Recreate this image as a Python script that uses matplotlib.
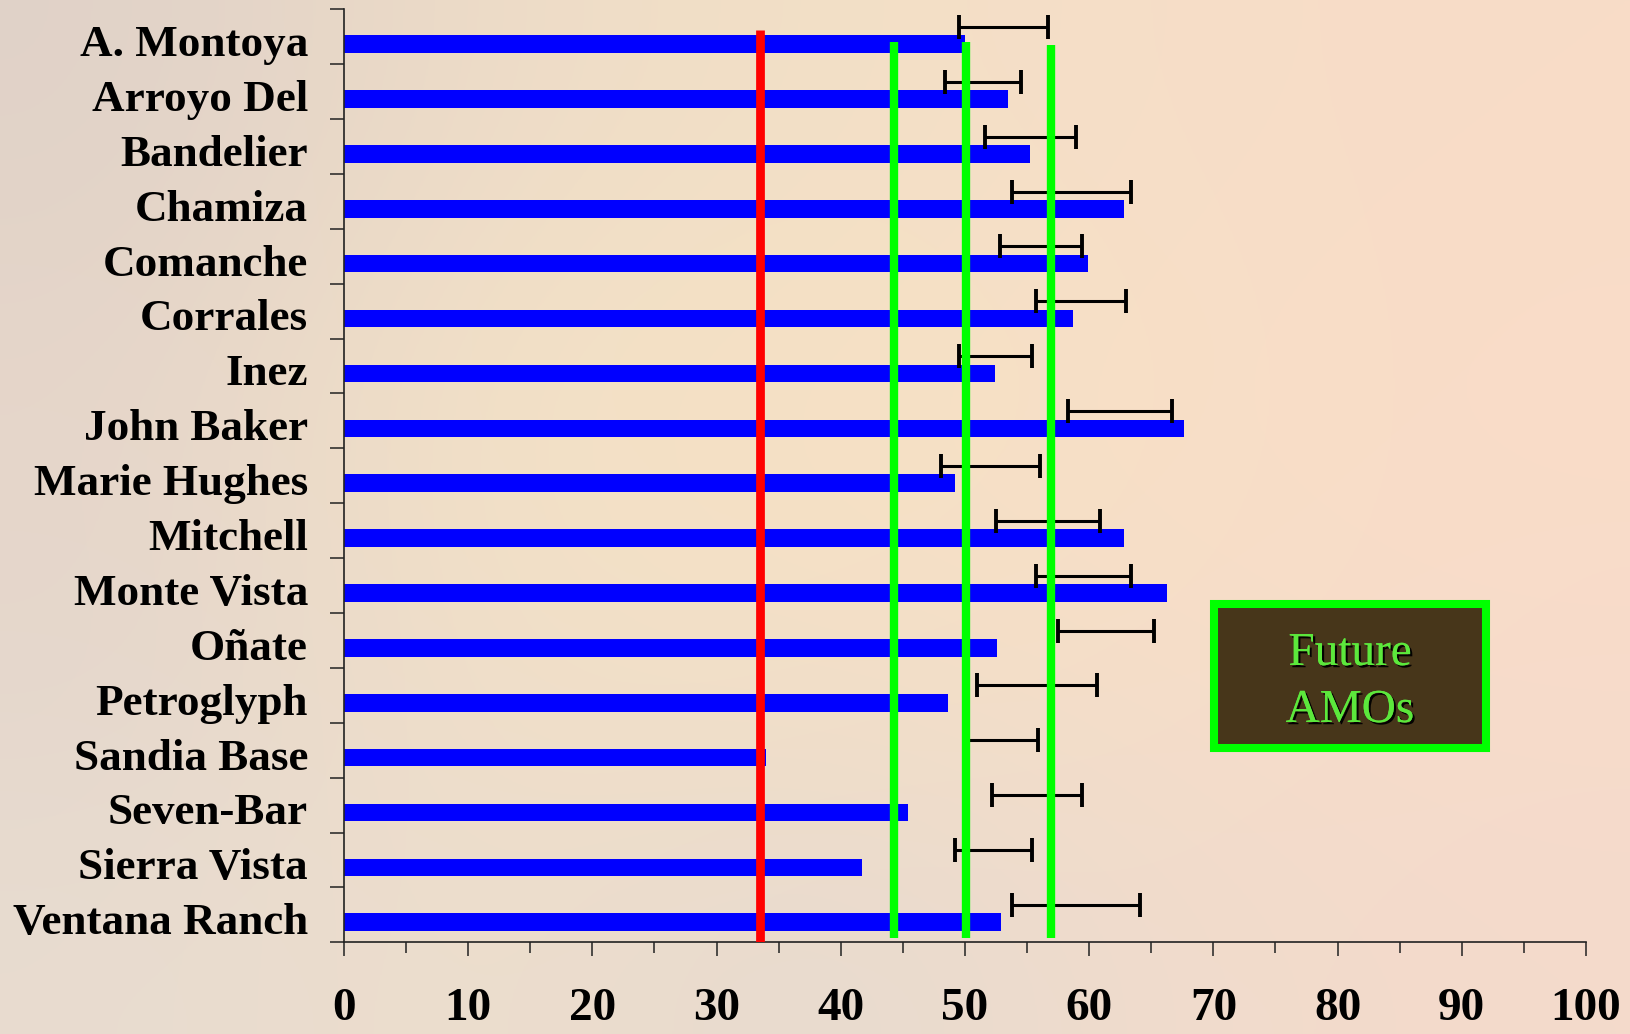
import matplotlib
matplotlib.use("Agg")
import matplotlib.pyplot as plt
import numpy as np
from matplotlib import patheffects as pe
from matplotlib.patches import Rectangle
from matplotlib.ticker import MultipleLocator

# Site names, top to bottom
sites = ["A. Montoya", "Arroyo Del", "Bandelier", "Chamiza", "Comanche",
         "Corrales", "Inez", "John Baker", "Marie Hughes", "Mitchell",
         "Monte Vista", "Oñate", "Petroglyph", "Sandia Base", "Seven-Bar",
         "Sierra Vista", "Ventana Ranch"]

# Score for each site (blue bars)
scores = [50.0, 53.5, 55.2, 62.8, 59.9, 58.7, 52.4, 67.6, 49.2, 62.8,
          66.3, 52.6, 48.6, 34.0, 45.4, 41.7, 52.9]

# Range shown by the black interval whiskers
range_low = [49.5, 48.4, 51.6, 53.8, 52.8, 55.7, 49.5, 58.3, 48.1, 52.5,
             55.7, 57.5, 51.0, 50.2, 52.2, 49.2, 53.8]
range_high = [56.7, 54.5, 58.9, 63.4, 59.4, 63.0, 55.4, 66.7, 56.0, 60.9,
              63.4, 65.2, 60.6, 55.9, 59.4, 55.4, 64.1]

# Reference levels: red threshold and green targets
red_level = 33.5
green_levels = [44.3, 50.1, 56.9]

x_ticks = [0, 10, 20, 30, 40, 50, 60, 70, 80, 90, 100]

W, H = 1631, 1034
fig = plt.figure(figsize=(W / 100, H / 100), dpi=100)

# Soft parchment-like backdrop
bg = fig.add_axes([0, 0, 1, 1], zorder=-10)
grid = np.array([
    [[224, 210, 200], [238, 220, 200], [242, 224, 198], [246, 222, 200], [248, 220, 200]],
    [[230, 214, 202], [244, 226, 198], [246, 226, 196], [248, 224, 198], [250, 220, 200]],
    [[228, 214, 204], [242, 224, 200], [244, 224, 198], [246, 222, 200], [248, 220, 202]],
    [[232, 220, 208], [238, 222, 204], [230, 218, 208], [240, 220, 204], [244, 218, 204]],
], dtype=float) / 255.0
bg.imshow(grid, extent=[0, 1, 0, 1], aspect="auto", interpolation="bicubic")
bg.set_xlim(0, 1)
bg.set_ylim(0, 1)
bg.axis("off")

ax = fig.add_axes([344 / W, (H - 942.3) / H, (1586 - 344) / W, (942.3 - 9.3) / H])
ax.set_facecolor("none")

n = len(sites)
pos = np.arange(n)

ax.barh(pos + 0.135, scores, height=0.32, color="#0000FF", zorder=2)

mid = (np.array(range_low) + np.array(range_high)) / 2
half = (np.array(range_high) - np.array(range_low)) / 2
ax.errorbar(mid, pos - 0.18, xerr=half, fmt="none", ecolor="black",
            elinewidth=2.2, capsize=8.3, capthick=2.8, zorder=3)

ax.axvline(red_level, ymin=0.0, ymax=0.978, color="#FF0000", lw=6.3,
           solid_capstyle="butt", zorder=4)
green_tops = [0.965, 0.965, 0.962]
for g, top in zip(green_levels, green_tops):
    ax.axvline(g, ymin=0.005, ymax=top, color="#00FF00", lw=6.0,
               solid_capstyle="butt", zorder=4)

ax.set_xlim(0, 100)
ax.set_ylim(n - 0.5, -0.5)

for s in ["top", "right"]:
    ax.spines[s].set_visible(False)
for s in ["left", "bottom"]:
    ax.spines[s].set_linewidth(1.2)
    ax.spines[s].set_color("#222222")

serif = ["Liberation Serif", "DejaVu Serif"]

# X axis
ax.set_xticks(x_ticks)
ax.set_xticklabels([str(t) for t in x_ticks], fontsize=34, fontweight="bold",
                   family=serif)
ax.xaxis.set_minor_locator(MultipleLocator(5))
ax.tick_params(axis="x", which="major", direction="out", length=10, width=1.1,
               color="#222222", pad=23)
ax.tick_params(axis="x", which="minor", direction="out", length=8, width=1.1,
               color="#222222")

# Y axis: boundary ticks between sites, names at the centres
ax.set_yticks(np.arange(-0.5, n, 1.0))
ax.set_yticklabels([])
ax.set_yticks(pos + 0.07, minor=True)
ax.set_yticklabels(sites, minor=True, fontsize=32.5, fontweight="bold",
                   family=serif)
ax.tick_params(axis="y", which="major", direction="out", length=10, width=1.1,
               color="#222222")
ax.tick_params(axis="y", which="minor", length=0, pad=26)

# "Future AMOs" legend box
box = Rectangle((1214 / W, 286 / H), (1486 - 1214) / W, (430 - 286) / H,
                transform=fig.transFigure, facecolor="#47361A",
                edgecolor="#00FF00", linewidth=5.8, zorder=5)
fig.patches.append(box)
shadow = [pe.withSimplePatchShadow(offset=(1.6, -1.6), shadow_rgbFace="black",
                                   alpha=0.95), pe.Normal()]
for txt, base in [("Future", 369), ("AMOs", 312)]:
    fig.text(1350 / W, base / H, txt, ha="center", va="baseline",
             fontsize=34, family=serif, color="#5CE83C",
             path_effects=shadow, zorder=6)

fig.savefig("out.png", dpi=100)
